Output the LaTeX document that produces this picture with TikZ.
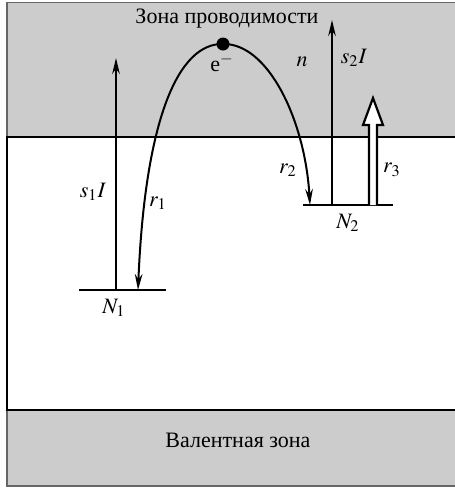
\documentclass[tikz,border=0pt]{standalone}
\usepackage{mathptmx}
\usepackage{fontspec}
\setmainfont{Liberation Serif}
\usetikzlibrary{arrows.meta}

\begin{document}
\begin{tikzpicture}[x=0.5pt,y=-0.5pt,
  edge/.style={line width=1.3pt},
  level/.style={line width=1pt},
  trans/.style={line width=1pt,-{Stealth[length=8pt,width=3.8pt]}},
  lbl/.style={font=\fontsize{11}{13}\selectfont,inner sep=1pt}]
\useasboundingbox (0,0) rectangle (455,488);

% Conduction band
\fill[black!20] (7,2.5) rectangle (455,137);
\draw[black!60,line width=0.7pt] (7,137) -- (7,2.5) -- (455,2.5);
\node[lbl] (cb) at (227,19) {Зона проводимости};

% Valence band
\fill[black!20] (7,410) rectangle (455,486);
\draw[black!60,line width=0.7pt] (7,410) -- (7,486) -- (455,486);
\node[lbl] (vb) at (238,440) {Валентная зона};

% Gap
\draw[edge] (455,137) -- (7,137) -- (7,410) -- (455,410);

% Trap levels
\coordinate (N1l) at (79,290);
\coordinate (N1r) at (166,290);
\draw[level] (N1l) -- (N1r);
\node[lbl] (N1) at (114,308) {$N_1$};
\coordinate (N2l) at (303,205);
\coordinate (N2r) at (393,205);
\draw[level] (N2l) -- (N2r);
\node[lbl] (N2) at (348,223) {$N_2$};

% Excitation
\coordinate (s1a) at (116,290);
\coordinate (s1b) at (116,58);
\draw[trans] (s1a) -- (s1b);
\node[lbl] (s1) at (93,192) {$s_1I$};
\coordinate (s2a) at (332,205);
\coordinate (s2b) at (332,20);
\draw[trans] (s2a) -- (s2b);
\node[lbl] (s2) at (354,58) {$s_2I$};

% Electron and capture
\node[circle,fill,inner sep=0pt,minimum size=6.5pt] (e) at (223,44) {};
\node[lbl] (el) at (222,63) {e$^{-}$};
\node[lbl] (n) at (302,62) {$n$};
\coordinate (r1end) at (138,290);
\coordinate (r2end) at (310,205);
\draw[trans] (e.center) .. controls (178,43) and (145,120) .. (r1end);
\draw[trans] (e.center) .. controls (268,43) and (305,120) .. (r2end);
\node[lbl] (r1) at (158,203) {$r_1$};
\node[lbl] (r2) at (288,170) {$r_2$};

% Hollow arrow
\draw[line width=1.1pt,fill=white] (369,205) -- (369,125) -- (363,125) -- (373,98)
  -- (383,125) -- (377,125) -- (377,205);
\node[lbl] (r3) at (392,170) {$r_3$};
\end{tikzpicture}
\end{document}
